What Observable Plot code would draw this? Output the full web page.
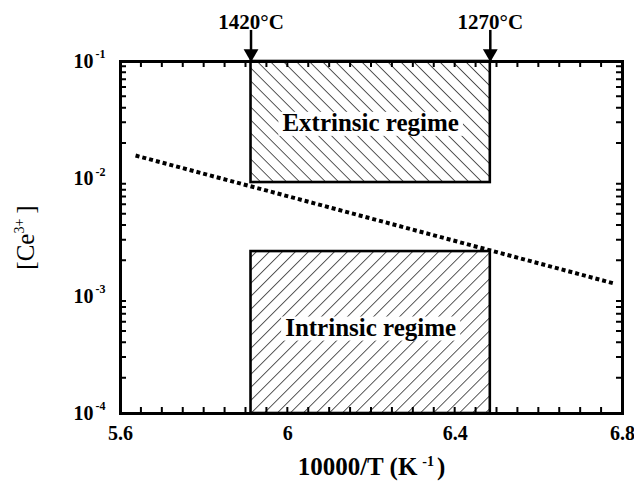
<!DOCTYPE html>
<html>
<head>
<meta charset="utf-8">
<script src="https://cdn.jsdelivr.net/npm/d3@7"></script>
<script src="https://cdn.jsdelivr.net/npm/@observablehq/plot@0.6"></script>
<style>
  html, body { margin: 0; padding: 0; background: white; }
  #chart { width: 634px; height: 486px; }
</style>
</head>
<body>
<div id="chart"></div>
<script>
// ---- data ----
const xDomain = [5.6, 6.8];
const yDomain = [1e-4, 1e-1];
const xTickLabels = [5.6, 6, 6.4, 6.8];
const yDecades = [1e-1, 1e-2, 1e-3, 1e-4];
const yExponents = ["-1", "-2", "-3", "-4"];

// dotted line
const lineX = [5.636, 6.485, 6.781];
const lineY = [0.0158, 0.00245, 0.00128];

// regime boxes
const regimeNames = ["Extrinsic regime", "Intrinsic regime"];
const regimeX1 = [5.912, 5.912];
const regimeX2 = [6.484, 6.484];
const regimeYLow = [0.0093, 1e-4];
const regimeYHigh = [0.1, 0.0024];
const regimeLabelY = [0.030, 0.00054];
const regimeHatch = ["url(#hatchDown)", "url(#hatchUp)"];

// temperature markers
const tempLabels = ["1420°C", "1270°C"];
const tempX = [5.912, 6.484];
const arrowTail = 0.184;

// ---- derived tables ----
const lineData = lineX.map((x, i) => ({x, y: lineY[i]}));
const regimes = regimeNames.map((name, i) => ({
  name, x1: regimeX1[i], x2: regimeX2[i], y1: regimeYLow[i], y2: regimeYHigh[i],
  ly: regimeLabelY[i], fill: regimeHatch[i]
}));
const temps = tempLabels.map((t, i) => ({t, x: tempX[i]}));
const xMinorTicks = d3.range(1, 24).map(i => +(5.6 + i * 0.05).toFixed(2));
const yMinorTicks = [];
for (const d of [1e-4, 1e-3, 1e-2]) for (let k = 2; k <= 9; k++) yMinorTicks.push(d * k);
const yTicks = yDecades.map((v, i) => ({v, e: yExponents[i]}));

const font = "Liberation Serif, Times New Roman, serif";
const W = 634, H = 486, ML = 120, MR = 12, MT = 61, MB = 73;
const TICK = 6;   // inward tick length

const plot = Plot.plot({
  width: W,
  height: H,
  marginLeft: ML,
  marginRight: MR,
  marginTop: MT,
  marginBottom: MB,
  style: {fontFamily: font, background: "white", color: "black"},
  x: {domain: xDomain, axis: null},
  y: {type: "log", domain: yDomain, axis: null},
  marks: [
    Plot.rect(regimes, {x1: "x1", x2: "x2", y1: "y1", y2: "y2", fill: "fill", stroke: "black", strokeWidth: 2.6}),
    Plot.text(regimes, {x: d => (d.x1 + d.x2) / 2, y: "ly", text: "name", fontSize: 25, fontWeight: "bold", className: "regimeLabel"}),
    Plot.line(lineData, {x: "x", y: "y", stroke: "black", strokeWidth: 4, strokeDasharray: "4,3", strokeLinecap: "butt"}),
    Plot.frame({stroke: "black", strokeWidth: 3}),
    // tick labels
    Plot.text(xTickLabels, {x: d => d, y: () => 1e-4, dy: 20, text: d => String(d), fontSize: 20, fontWeight: "bold"}),
    Plot.text(yTicks, {x: () => 5.6, y: "v", dx: -27, text: () => "10", textAnchor: "end", fontSize: 20, fontWeight: "bold"}),
    Plot.text(yTicks, {x: () => 5.6, y: "v", dx: -25, dy: -7, text: "e", textAnchor: "start", fontSize: 12, fontWeight: "bold"}),
    // axis labels
    Plot.text(["10000/T (K"], {frameAnchor: "bottom", dy: 53, lineAnchor: "middle", textAnchor: "middle", text: d => d, fontSize: 25, fontWeight: "bold", className: "xlab"}),
    Plot.text(["[Ce"], {frameAnchor: "left", dx: -95, rotate: -90, lineAnchor: "middle", textAnchor: "middle", text: d => d, fontSize: 25, className: "ylab"}),
    // temperature arrows
    Plot.ruleX(temps, {x: "x", y1: () => 0.1, y2: () => arrowTail, stroke: "black", strokeWidth: 2.5}),
    Plot.dot(temps, {x: "x", y: () => 0.1, symbol: "triangle", rotate: 180, r: 5.5, fill: "black", stroke: null, dy: -8}),
    Plot.text(temps, {x: "x", y: () => 0.1, dy: -39, text: "t", fontSize: 21, fontWeight: "bold"})
  ]
});

document.getElementById("chart").appendChild(plot);

const svg = d3.select(plot);
svg.insert("defs", ":first-child").html(`
  <pattern id="hatchDown" patternUnits="userSpaceOnUse" width="9.2" height="9.2" patternTransform="rotate(-45)">
    <path d="M0,0V9.2" stroke="black" stroke-width="1.3"/>
  </pattern>
  <pattern id="hatchUp" patternUnits="userSpaceOnUse" width="9.2" height="9.2" patternTransform="rotate(45)">
    <path d="M0,0V9.2" stroke="black" stroke-width="1.3"/>
  </pattern>`);

// inward ticks, positioned with Plot's own scales
const sx = plot.scale("x"), sy = plot.scale("y");
const yTopPx = MT, yBottomPx = H - MB, xLeftPx = ML, xRightPx = W - MR;
let tickPath = "";
for (const v of xMinorTicks) {
  const px = sx.apply(v);
  tickPath += `M${px},${yBottomPx}V${yBottomPx - TICK}M${px},${yTopPx}V${yTopPx + TICK}`;
}
for (const v of yMinorTicks) {
  const py = sy.apply(v);
  tickPath += `M${xLeftPx},${py}H${xLeftPx + TICK}M${xRightPx},${py}H${xRightPx - TICK}`;
}
svg.append("path").attr("d", tickPath).attr("fill", "none").attr("stroke", "black").attr("stroke-width", 2);

// superscripts
svg.selectAll("g.xlab text").each(function() {
  const t = d3.select(this);
  t.text("10000/T (K");
  t.append("tspan").attr("dy", -9).attr("dx", 5).attr("font-size", 14).text("-1");
  t.append("tspan").attr("dy", 9).attr("dx", 3).text(")");
});
svg.selectAll("g.ylab text").each(function() {
  const t = d3.select(this);
  t.text("[Ce");
  t.append("tspan").attr("dy", -10).attr("font-size", 14).text("3+");
  t.append("tspan").attr("dy", 10).attr("dx", 5).text("]");
});
// white boxes behind regime labels
svg.selectAll("g.regimeLabel text").each(function() {
  const b = this.getBBox();
  const tr = this.getAttribute("transform");
  const r = d3.select(this.parentNode).insert("rect", () => this)
    .attr("x", b.x - 4).attr("y", b.y + 3).attr("width", b.width + 8).attr("height", b.height - 3)
    .attr("fill", "white");
  if (tr) r.attr("transform", tr);
});
</script>
</body>
</html>
